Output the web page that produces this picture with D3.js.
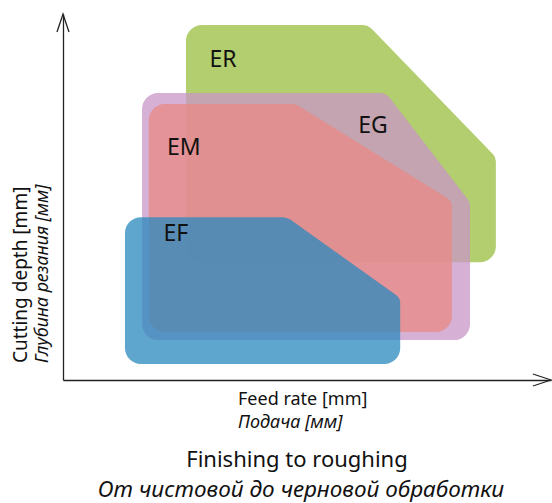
<!DOCTYPE html>
<html>
<head>
<meta charset="utf-8">
<script src="https://cdn.jsdelivr.net/npm/d3@7"></script>
<style>
  body { margin: 0; background: #fff; }
  text { font-family: "Noto Sans", "Open Sans", sans-serif; fill: #111; }
  .it { font-style: italic; }
</style>
</head>
<body>
<script>
// Sizes
var width = 552, height = 503;
var x0 = 63, x1 = 551, y0 = 380, y1 = 14;

// Application areas (relative units, 0..100 on both axes)
var grades      = ["ER", "EG", "EM", "EF"];
var feedMin     = [25.2, 16.2, 17.6, 12.7];
var feedBend    = [62.5, 66.2, 47.7, 45.9];   // where the top edge turns down
var feedMax     = [88.7, 83.4, 79.7, 69.1];
var depthMin    = [32.2, 10.9, 13.1, 4.4];
var depthBend   = [60.9, 48.6, 48.9, 22.4];   // where the slope meets the right edge
var depthMax    = [97.0, 78.4, 75.4, 44.5];
var labelFeed   = [30.0, 60.5, 21.3, 20.6];
var labelDepth  = [85.5, 67.5, 61.5, 38.0];

var fills   = ["#b2ce6e", "#c896c7", "#e88a87", "#2d8abf"];
var opacity = [1, 0.75, 0.78, 0.76];

var xLabel = ["Feed rate [mm]", "Подача [мм]"];
var yLabel = ["Cutting depth [mm]", "Глубина резания [мм]"];
var title  = ["Finishing to roughing", "От чистовой до черновой обработки"];

var x = d3.scaleLinear().domain([0, 100]).range([x0, x1]);
var y = d3.scaleLinear().domain([0, 100]).range([y0, y1]);

var svg = d3.select("body").append("svg")
  .attr("width", width)
  .attr("height", height);

//Rounded polygon through d3.path arcTo
function roundedPath(pts, r) {
  var p = d3.path();
  var n = pts.length;
  var last = pts[n - 1], first = pts[0];
  p.moveTo((last[0] + first[0]) / 2, (last[1] + first[1]) / 2);
  for (var i = 0; i < n; i++) {
    var a = pts[i], b = pts[(i + 1) % n];
    p.arcTo(a[0], a[1], b[0], b[1], r[i]);
  }
  p.closePath();
  return p.toString();
}

var areas = grades.map(function(g, i) {
  return {
    name: g,
    pts: [
      [x(feedMin[i]), y(depthMax[i])],
      [x(feedBend[i]), y(depthMax[i])],
      [x(feedMax[i]), y(depthBend[i])],
      [x(feedMax[i]), y(depthMin[i])],
      [x(feedMin[i]), y(depthMin[i])]
    ],
    fill: fills[i],
    op: opacity[i]
  };
});

svg.append("g").selectAll("path")
  .data(areas)
  .enter().append("path")
  .attr("d", function(d) { return roundedPath(d.pts, [16, 14, 10, 16, 16]); })
  .attr("fill", function(d) { return d.fill; })
  .attr("fill-opacity", function(d) { return d.op; });

svg.append("g").selectAll("text")
  .data(grades)
  .enter().append("text")
  .attr("x", function(d, i) { return x(labelFeed[i]); })
  .attr("y", function(d, i) { return y(labelDepth[i]); })
  .attr("font-size", 23)
  .text(function(d) { return d; });

//Axes (domain lines only) with open arrow heads
var xAxis = d3.axisBottom(x).ticks(0).tickSize(0).tickSizeOuter(0);
var yAxis = d3.axisLeft(y).ticks(0).tickSize(0).tickSizeOuter(0);

svg.append("g")
  .attr("transform", "translate(0," + y0 + ")")
  .call(xAxis)
  .select(".domain").attr("stroke", "#222").attr("stroke-width", 1.3);

svg.append("g")
  .attr("transform", "translate(" + x0 + ",0)")
  .call(yAxis)
  .select(".domain").attr("stroke", "#222").attr("stroke-width", 1.3);

svg.append("path")
  .attr("d", "M" + (x0 - 6) + "," + (y1 + 18) + "L" + x0 + "," + y1 + "L" + (x0 + 6) + "," + (y1 + 18))
  .attr("fill", "none").attr("stroke", "#222").attr("stroke-width", 1.3);

svg.append("path")
  .attr("d", "M" + (x1 - 18) + "," + (y0 - 6) + "L" + x1 + "," + y0 + "L" + (x1 - 18) + "," + (y0 + 6))
  .attr("fill", "none").attr("stroke", "#222").attr("stroke-width", 1.3);

//Axis titles
svg.append("text").attr("x", 238).attr("y", 405).attr("font-size", 18).text(xLabel[0]);
svg.append("text").attr("class", "it").attr("x", 238).attr("y", 428).attr("font-size", 18).text(xLabel[1]);

svg.append("text")
  .attr("transform", "translate(27,363) rotate(-90)")
  .attr("font-size", 19)
  .text(yLabel[0]);
svg.append("text")
  .attr("class", "it")
  .attr("transform", "translate(48,363) rotate(-90)")
  .attr("font-size", 17.8)
  .text(yLabel[1]);

//Caption
svg.append("text").attr("x", 297).attr("y", 467).attr("text-anchor", "middle")
  .attr("font-size", 22).text(title[0]);
svg.append("text").attr("class", "it").attr("x", 301).attr("y", 497).attr("text-anchor", "middle")
  .attr("font-size", 22.5).text(title[1]);
</script>
</body>
</html>
